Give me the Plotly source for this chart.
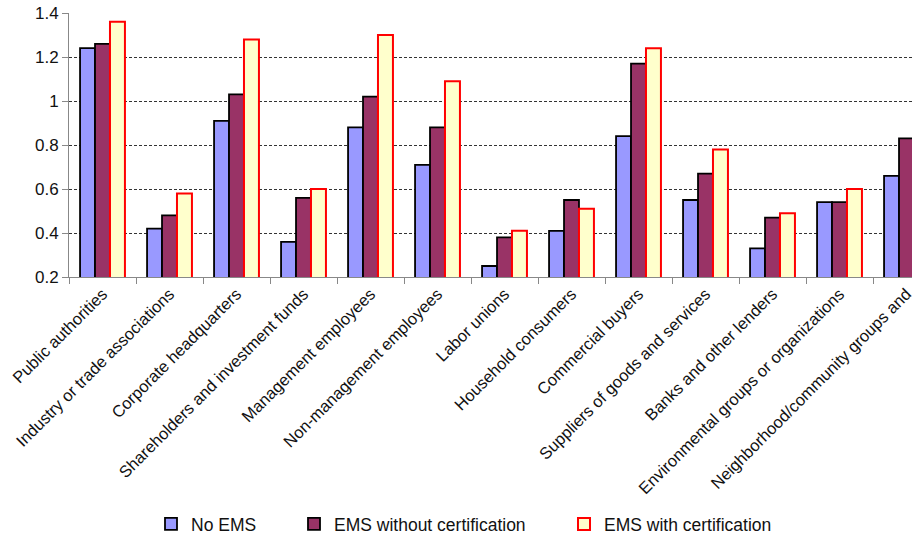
import plotly.graph_objects as go

categories = [
    "Public authorities",
    "Industry or trade associations",
    "Corporate headquarters",
    "Shareholders and investment funds",
    "Management employees",
    "Non-management employees",
    "Labor unions",
    "Household consumers",
    "Commercial buyers",
    "Suppliers of goods and services",
    "Banks and other lenders",
    "Environmental groups or organizations",
    "Neighborhood/community groups and",
]
no_ems = [1.24, 0.42, 0.91, 0.36, 0.88, 0.71, 0.25, 0.41, 0.84, 0.55, 0.33, 0.54, 0.66]
ems_no_cert = [1.26, 0.48, 1.03, 0.56, 1.02, 0.88, 0.38, 0.55, 1.17, 0.67, 0.47, 0.54, 0.83]
ems_cert = [1.36, 0.58, 1.28, 0.60, 1.30, 1.09, 0.41, 0.51, 1.24, 0.78, 0.49, 0.60, 0.90]
series_names = ["No EMS", "EMS without certification", "EMS with certification"]
y_ticks = [0.2, 0.4, 0.6, 0.8, 1.0, 1.2, 1.4]
y_tick_text = ["0.2", "0.4", "0.6", "0.8", "1", "1.2", "1.4"]

FONT = "Liberation Sans, Arial, sans-serif"
W, H = 912, 535
ml, mt, mb = 69, 13, 258
plot_h = H - mt - mb
cat_px = 67.0

fig = go.Figure()
styles = [
    dict(color="#9999FF", line=dict(color="#000000", width=1.8)),
    dict(color="#993366", line=dict(color="#000000", width=1.8)),
    dict(color="#FFFFCC", line=dict(color="#FF0000", width=2)),
]
for i, (vals, name) in enumerate(zip([no_ems, ems_no_cert, ems_cert], series_names)):
    fig.add_trace(go.Bar(
        x=categories, y=vals, name=name, marker=styles[i], showlegend=True,
        legend="legend" if i == 0 else f"legend{i+1}",
    ))

leg_y = (plot_h - (524 - mt)) / plot_h
leg_common = dict(orientation="h", yanchor="middle", xanchor="left", y=leg_y,
                  font=dict(family=FONT, size=17.5, color="#111111"),
                  bgcolor="rgba(0,0,0,0)", itemwidth=30, tracegroupgap=0)
plot_w = W - ml
def px_to_x(px):
    return (px - ml) / plot_w

fig.update_layout(
    width=W, height=H,
    margin=dict(l=ml, r=0, t=mt, b=mb, autoexpand=False),
    plot_bgcolor="white", paper_bgcolor="white",
    barmode="group", bargap=0.33, bargroupgap=0,
    showlegend=True,
    font=dict(family=FONT, size=15, color="#111111"),
    legend=dict(x=px_to_x(187 - 36), **leg_common),
    legend2=dict(x=px_to_x(330 - 36), **leg_common),
    legend3=dict(x=px_to_x(600 - 36), **leg_common),
    xaxis=dict(
        range=[-0.5, -0.5 + plot_w / cat_px],
        showline=True, linecolor="#888888", linewidth=1,
        ticks="outside", tickson="boundaries", ticklen=6, tickcolor="#888888",
        tickangle=-45, tickfont=dict(family=FONT, size=16.5, color="#111111"),
        showgrid=False,
    ),
    yaxis=dict(
        range=[0.2, 1.4], tickvals=y_ticks, ticktext=y_tick_text,
        showline=True, linecolor="#888888", linewidth=1,
        ticks="outside", ticklen=6, tickcolor="#888888",
        tickfont=dict(family=FONT, size=17, color="#111111"),
        showgrid=True, gridcolor="#333333", gridwidth=1, griddash="3px,2px",
        zeroline=False,
    ),
)

fig.write_html("out.html")
